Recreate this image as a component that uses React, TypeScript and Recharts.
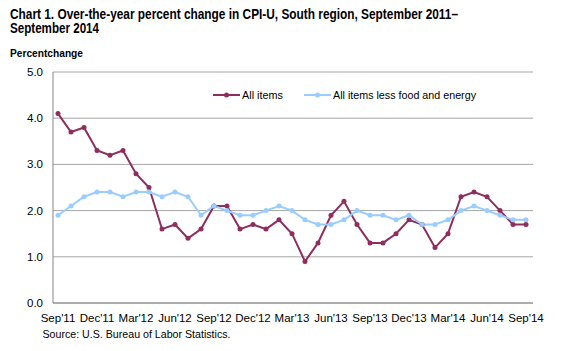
import React from "react";
import { LineChart, Line, XAxis, YAxis, CartesianGrid } from "recharts";

const months = [
  "Sep'11", "Oct'11", "Nov'11", "Dec'11", "Jan'12", "Feb'12", "Mar'12", "Apr'12", "May'12", "Jun'12", "Jul'12", "Aug'12",
  "Sep'12", "Oct'12", "Nov'12", "Dec'12", "Jan'13", "Feb'13", "Mar'13", "Apr'13", "May'13", "Jun'13", "Jul'13", "Aug'13",
  "Sep'13", "Oct'13", "Nov'13", "Dec'13", "Jan'14", "Feb'14", "Mar'14", "Apr'14", "May'14", "Jun'14", "Jul'14", "Aug'14",
  "Sep'14",
];

const allItems = [
  4.1, 3.7, 3.8, 3.3, 3.2, 3.3, 2.8, 2.5, 1.6, 1.7, 1.4, 1.6,
  2.1, 2.1, 1.6, 1.7, 1.6, 1.8, 1.5, 0.9, 1.3, 1.9, 2.2, 1.7,
  1.3, 1.3, 1.5, 1.8, 1.7, 1.2, 1.5, 2.3, 2.4, 2.3, 2.0, 1.7,
  1.7,
];

const coreItems = [
  1.9, 2.1, 2.3, 2.4, 2.4, 2.3, 2.4, 2.4, 2.3, 2.4, 2.3, 1.9,
  2.1, 2.0, 1.9, 1.9, 2.0, 2.1, 2.0, 1.8, 1.7, 1.7, 1.8, 2.0,
  1.9, 1.9, 1.8, 1.9, 1.7, 1.7, 1.8, 2.0, 2.1, 2.0, 1.9, 1.8,
  1.8,
];

const yTicks = [0, 1, 2, 3, 4, 5];

const MAROON = "#8E2D5E";
const BLUE = "#99CCFF";
const FONT = "Arial, 'Liberation Sans', sans-serif";

const data = months.map((m, i) => ({
  month: m,
  all: allItems[i],
  core: coreItems[i],
}));

// title, axis caption, legend and source drawn over the chart
function Overlay() {
  return (
    <svg
      width={583}
      height={351}
      style={{ position: "absolute", left: 0, top: 0, pointerEvents: "none" }}
      fontFamily={FONT}
    >
      <text x={10} y={19} fontSize={14} fontWeight="bold" textLength={448} lengthAdjust="spacingAndGlyphs">
        Chart 1. Over-the-year percent change in CPI-U, South region, September 2011–
      </text>
      <text x={10} y={32.5} fontSize={14} fontWeight="bold" textLength={89} lengthAdjust="spacingAndGlyphs">
        September 2014
      </text>
      <text x={10} y={57} fontSize={11} fontWeight="bold" textLength={73} lengthAdjust="spacingAndGlyphs">
        Percentchange
      </text>

      <line x1={213} y1={95} x2={240} y2={95} stroke={MAROON} strokeWidth={2} />
      <circle cx={226.5} cy={95} r={2.5} fill={MAROON} />
      <text x={242} y={99} fontSize={11} textLength={41} lengthAdjust="spacingAndGlyphs">
        All items
      </text>
      <line x1={304} y1={95} x2={331} y2={95} stroke={BLUE} strokeWidth={2} />
      <circle cx={317.5} cy={95} r={2.5} fill={BLUE} />
      <text x={333} y={99} fontSize={11} textLength={143} lengthAdjust="spacingAndGlyphs">
        All items less food and energy
      </text>

      <text x={42.5} y={338} fontSize={11} textLength={188} lengthAdjust="spacingAndGlyphs">
        Source: U.S. Bureau of Labor Statistics.
      </text>
    </svg>
  );
}

export default function App() {
  return (
    <div
      style={{
        position: "absolute",
        left: 0,
        top: 0,
        width: 583,
        height: 351,
        background: "#fff",
        fontFamily: FONT,
      }}
    >
      <LineChart
        width={583}
        height={351}
        data={data}
        margin={{ top: 72, right: 50, bottom: 18, left: 0 }}
      >
        <CartesianGrid horizontal vertical={false} stroke="#A6A6A6" />
        <XAxis
          dataKey="month"
          interval={2}
          tickLine={false}
          tickMargin={5}
          padding={{ left: 5, right: 7 }}
          axisLine={{ stroke: "#868686" }}
          tick={{ fontSize: 11.5, fill: "#000", fontFamily: FONT }}
        />
        <YAxis
          domain={[0, 5]}
          ticks={yTicks}
          width={53}
          tickLine={false}
          tickMargin={4}
          axisLine={{ stroke: "#868686" }}
          tickFormatter={(v: number) => v.toFixed(1)}
          tick={{ fontSize: 11.5, fill: "#000", fontFamily: FONT }}
        />
        <YAxis
          yAxisId="frame"
          orientation="right"
          width={0}
          tick={false}
          tickLine={false}
          axisLine={{ stroke: "#868686" }}
        />
        <Line
          dataKey="all"
          name="All items"
          stroke={MAROON}
          strokeWidth={2}
          dot={{ r: 2.5, fill: MAROON, stroke: MAROON, strokeWidth: 0 }}
          isAnimationActive={false}
        />
        <Line
          dataKey="core"
          name="All items less food and energy"
          stroke={BLUE}
          strokeWidth={2}
          dot={{ r: 2.5, fill: BLUE, stroke: BLUE, strokeWidth: 0 }}
          isAnimationActive={false}
        />
      </LineChart>
      <Overlay />
    </div>
  );
}
